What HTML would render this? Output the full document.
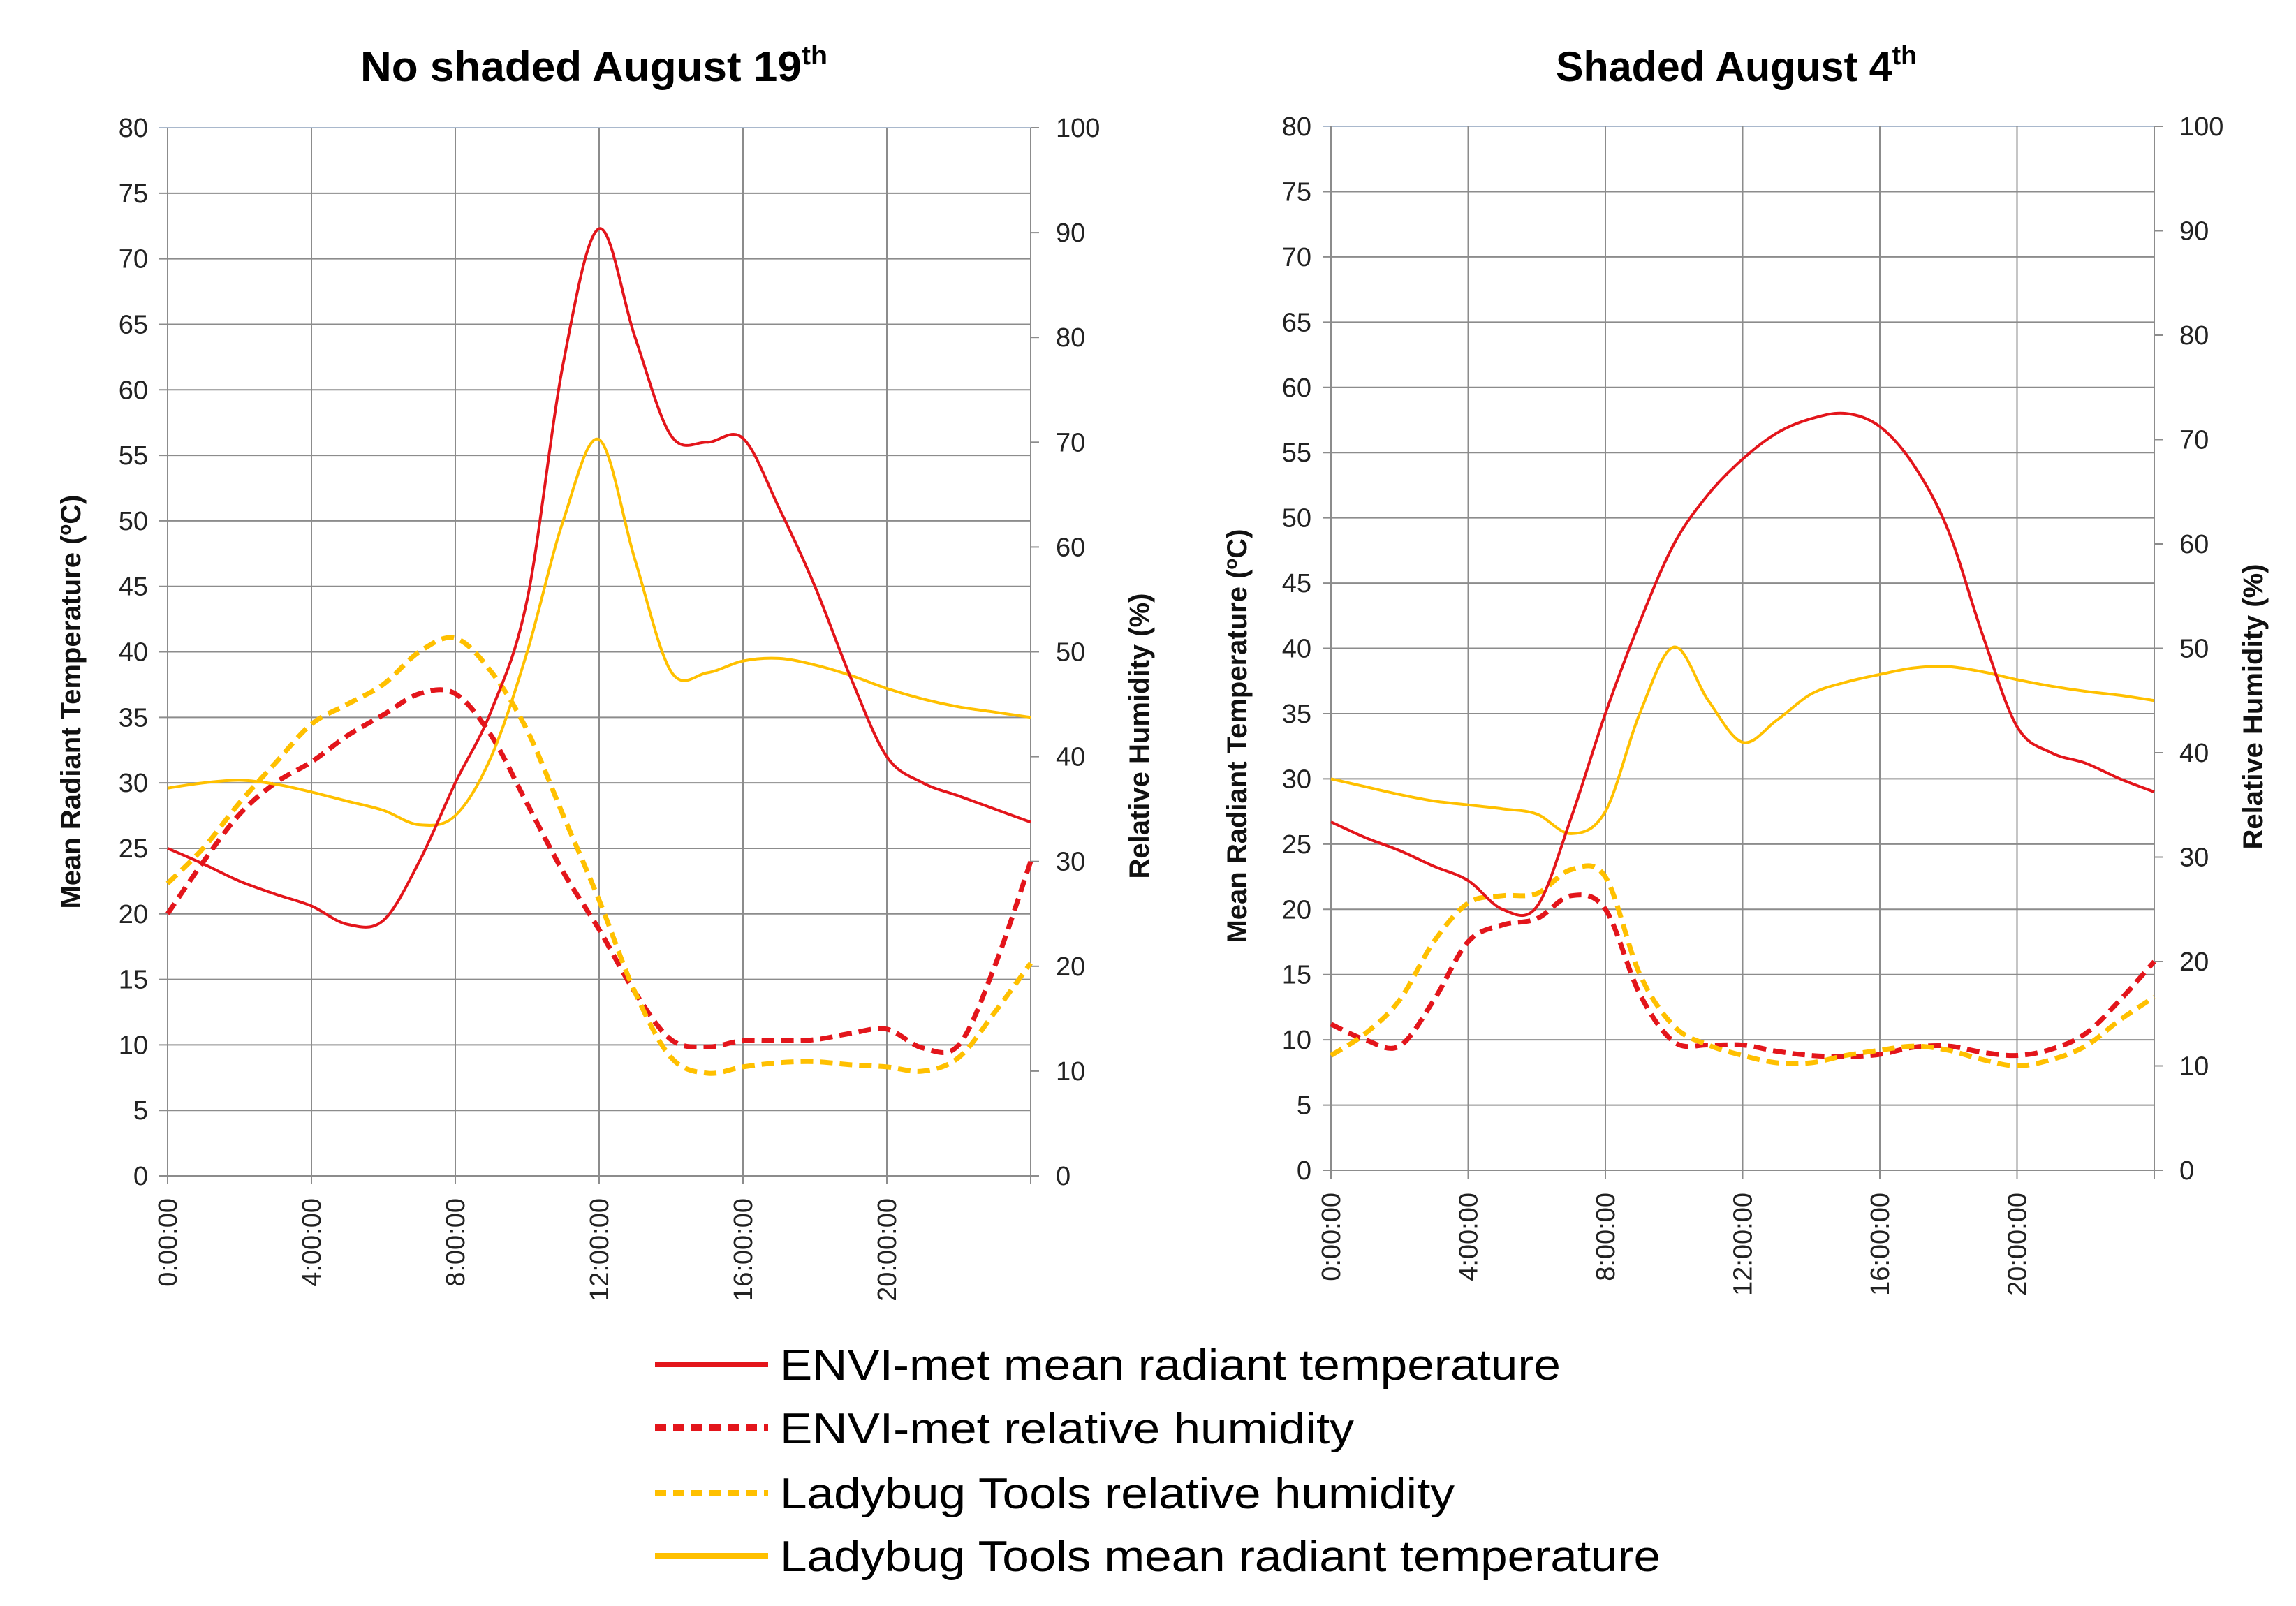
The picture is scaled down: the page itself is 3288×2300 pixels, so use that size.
<!DOCTYPE html>
<html><head><meta charset="utf-8"><style>
html,body{margin:0;padding:0;background:#fff;}
svg{display:block;font-family:"Liberation Sans",sans-serif;}
</style></head><body>
<svg id="svg" width="3288" height="2300" viewBox="0 0 3288 2300" xmlns="http://www.w3.org/2000/svg">
<rect width="3288" height="2300" fill="#fff"/>
<g id="legend"></g>
</svg>
<script>
const hours = [0,1,2,3,4,5,6,7,8,9,10,11,12,13,14,15,16,17,18,19,20,21,22,23,24];
const xTickLabels = ["0:00:00","4:00:00","8:00:00","12:00:00","16:00:00","20:00:00"];
const xTickHours = [0,4,8,12,16,20];
const yLeftTicks = [0,5,10,15,20,25,30,35,40,45,50,55,60,65,70,75,80];
const yRightTicks = [0,10,20,30,40,50,60,70,80,90,100];
// Left chart: No shaded August 19th
const leftEnviMrt = [25,23.8,22.5,21.5,20.6,19.2,19.5,24,30,35.5,44,62,72.3,64,56.5,56,56.3,51,45,38,32,30,29,28,27];
const leftLadyMrt = [29.6,30,30.2,29.9,29.3,28.6,27.9,26.8,27.5,32,40,50,56.2,47,38.5,38.4,39.3,39.5,39,38.2,37.2,36.4,35.8,35.4,35];
const leftEnviRh = [25,30,34.5,37.5,39.5,42,44,46,46,42,35.5,29,23.5,17.5,13,12.3,12.9,12.9,13,13.6,14,12.2,12.5,20,30];
const leftLadyRh = [27.9,31.3,35.6,39.4,43.1,45,46.9,50,51.3,48.1,42.5,34.4,26.3,17.5,11.3,9.8,10.4,10.8,10.9,10.6,10.4,10,11.3,15.6,20.3];
// Right chart: Shaded August 4th
const rightEnviMrt = [26.7,25.5,24.5,23.3,22.2,20,20.2,27,35,42,48,51.8,54.5,56.5,57.6,58,57,54,49,41,34,32,31.2,30,29];
const rightLadyMrt = [30,29.4,28.8,28.3,28,27.7,27.3,25.8,27.5,35,40.1,36,32.8,34.5,36.5,37.4,38,38.5,38.6,38.2,37.6,37.1,36.7,36.4,36];
const rightEnviRh = [14,12.5,11.9,16.3,21.9,23.5,24.1,26.3,25,16.9,12.3,12,12,11.4,11,10.9,11.1,11.8,11.9,11.3,11,11.6,13.1,16.3,20];
const rightLadyRh = [11,13.1,16.3,21.9,25.6,26.3,26.5,28.8,28.1,18.8,13.8,12,11,10.3,10.3,11,11.5,11.9,11.5,10.6,10,10.6,11.9,14.4,16.6];

const NS="http://www.w3.org/2000/svg";
const svg=document.getElementById('svg');
const RED="#e3151b", YEL="#ffc000";
function el(tag,attrs,parent){const e=document.createElementNS(NS,tag);for(const k in attrs)e.setAttribute(k,attrs[k]);(parent||svg).appendChild(e);return e;}
function smooth(pts){let d="M"+pts[0][0]+","+pts[0][1];for(let i=0;i<pts.length-1;i++){const p0=pts[Math.max(0,i-1)],p1=pts[i],p2=pts[i+1],p3=pts[Math.min(pts.length-1,i+2)];const t=6;d+=" C"+(p1[0]+(p2[0]-p0[0])/t)+","+(p1[1]+(p2[1]-p0[1])/t)+" "+(p2[0]-(p3[0]-p1[0])/t)+","+(p2[1]-(p3[1]-p1[1])/t)+" "+p2[0]+","+p2[1];}return d;}

function chart(cfg){
  const g=el('g',{});
  
  
  const x=h=>cfg.x0+(cfg.x1-cfg.x0)*h/24;
  const yL=v=>cfg.y0-(cfg.y0-cfg.y1)*v/80;
  const yR=v=>cfg.y0-(cfg.y0-cfg.y1)*v/100;
  // horizontal gridlines
  yLeftTicks.forEach(v=>{
    const l=el('line',{x1:cfg.x0-12,x2:cfg.x1,y1:yL(v),y2:yL(v),stroke:v==80?"#a9b8cc":"#8c8c8c","stroke-width":2},g);
    
    
    const t=el('text',{x:cfg.x0-28,y:yL(v)+13,"font-size":38,"text-anchor":"end",fill:"#222"},g);
    t.textContent=v;
    
    
  });
  yRightTicks.forEach(v=>{
    el('line',{x1:cfg.x1,x2:cfg.x1+12,y1:yR(v),y2:yR(v),stroke:"#8c8c8c","stroke-width":2},g);
    const t=el('text',{x:cfg.x1+36,y:yR(v)+13,"font-size":38,fill:"#222"},g);
    t.textContent=v;
    
    
  });
  // vertical gridlines
  for(let h=0;h<=24;h+=4){
    const l=el('line',{x1:x(h),x2:x(h),y1:cfg.y1,y2:cfg.y0+12,stroke:"#8c8c8c","stroke-width":2},g);
    
    
  }
  el('line',{x1:cfg.x1,x2:cfg.x1,y1:cfg.y1,y2:cfg.y0,stroke:"#8c8c8c","stroke-width":2},g);
  xTickLabels.forEach((lab,i)=>{
    const xx=x(xTickHours[i]);
    const t=el('text',{x:0,y:0,"font-size":38,"text-anchor":"end",fill:"#222",transform:"translate("+(xx+13)+","+(cfg.y0+32)+") rotate(-90)"},g);
    t.textContent=lab;
    
    
  });
  // series
  const series=[
    [cfg.enviRh,yR,RED,7,"18 10","envi-met-rh-line"],
    [cfg.ladyRh,yR,YEL,7,"18 10","ladybug-rh-line"],
    [cfg.ladyMrt,yL,YEL,4,null,"ladybug-mrt-line"],
    [cfg.enviMrt,yL,RED,4,null,"envi-met-mrt-line"]
  ];
  series.forEach(s=>{
    const pts=hours.map((h,i)=>[x(h),s[1](s[0][i])]);
    const a={d:smooth(pts),fill:"none",stroke:s[2],"stroke-width":s[3],"stroke-linejoin":"round"};
    if(s[4])a["stroke-dasharray"]=s[4];
    const p=el('path',a,g);
    
    
  });
  // titles
  const tt=el('text',{x:cfg.tx0,y:116,"font-size":60,"font-weight":"bold",fill:"#000",textLength:cfg.tw,lengthAdjust:"spacingAndGlyphs"},g);
  tt.innerHTML=cfg.title+'<tspan dy="-24" font-size="38">th</tspan>';
  
  
  const la=el('text',{x:0,y:0,"font-size":40,"font-weight":"bold","text-anchor":"middle",fill:"#111",transform:"translate("+cfg.lax+","+cfg.lay+") rotate(-90)"},g);
  la.innerHTML='Mean Radiant Temperature (<tspan dy="-14" font-size="26">o</tspan><tspan dy="14">C)</tspan>';
  
  
  const ra=el('text',{x:0,y:0,"font-size":40,"font-weight":"bold","text-anchor":"middle",fill:"#111",transform:"translate("+cfg.rax+","+cfg.ray+") rotate(-90)"},g);
  ra.textContent='Relative Humidity (%)';
  
  
}
chart({name:'chart-no-shaded',x0:240,x1:1476,y0:1684,y1:183,enviMrt:leftEnviMrt,ladyMrt:leftLadyMrt,enviRh:leftEnviRh,ladyRh:leftLadyRh,title:'No shaded August 19',tx0:516,tw:669,lax:115,lay:1005,rax:1645,ray:1054});
chart({name:'chart-shaded',x0:1906,x1:3085,y0:1676,y1:181,enviMrt:rightEnviMrt,ladyMrt:rightLadyMrt,enviRh:rightEnviRh,ladyRh:rightLadyRh,title:'Shaded August 4',tx0:2228,tw:517,lax:1785,lay:1054,rax:3240,ray:1012});

const legendLabels=["ENVI-met mean radiant temperature","ENVI-met relative humidity","Ladybug Tools relative humidity","Ladybug Tools mean radiant temperature"];
const lg=document.getElementById('legend');
const ly=[1954,2045,2138,2228],lw=[1118,822,966,1261],lc=[RED,RED,YEL,YEL],ld=[null,"16 10","16 10",null],lwid=[8,10,8,8];
legendLabels.forEach((lab,i)=>{
  const a={x1:938,x2:1100,y1:ly[i],y2:ly[i],stroke:lc[i],"stroke-width":lwid[i]};
  if(ld[i])a["stroke-dasharray"]=ld[i];
  const l=el('line',a,lg);
  
  
  const t=el('text',{x:1117,y:ly[i]+22,"font-size":62,fill:"#000",textLength:lw[i],lengthAdjust:"spacingAndGlyphs"},lg);
  t.textContent=lab;
  
  
});
</script>
</body></html>
